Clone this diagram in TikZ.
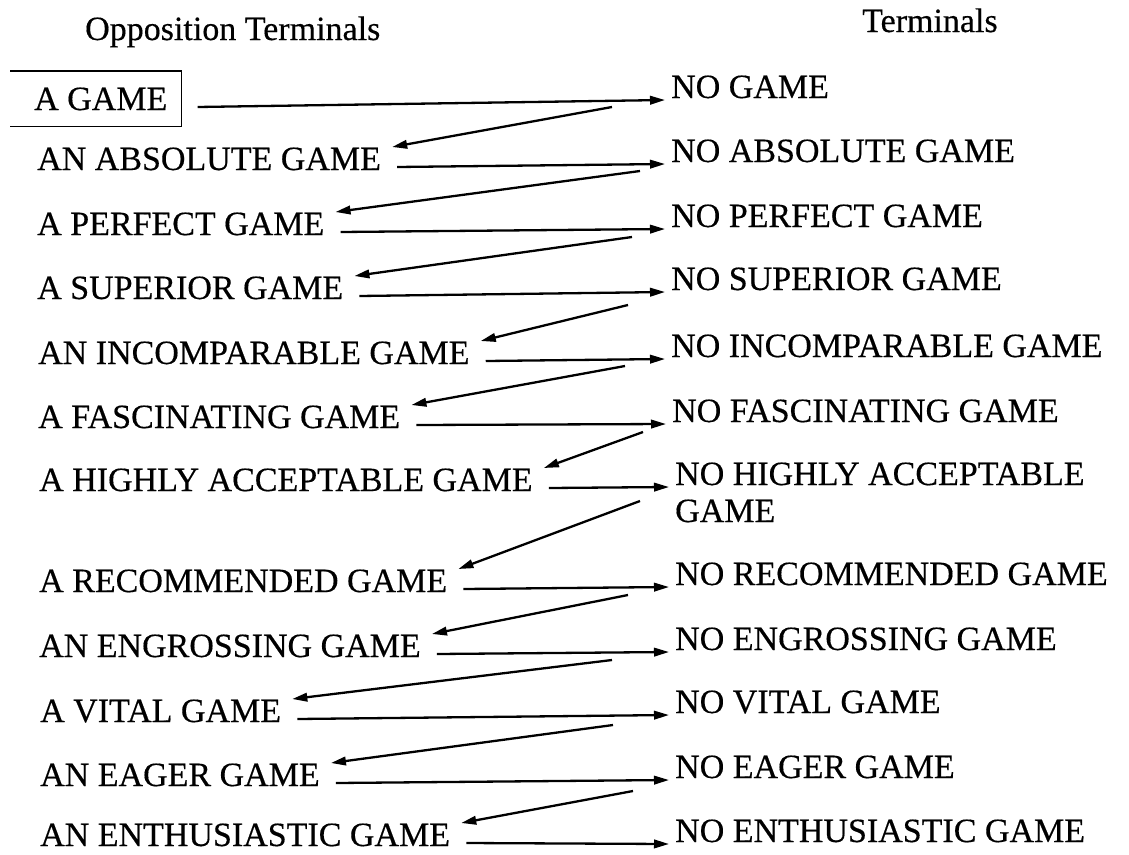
\documentclass[tikz,border=0pt]{standalone}
\usepackage{fontspec}
\setmainfont{Liberation Serif}[FakeBold=0.4]
\usetikzlibrary{arrows.meta,positioning,calc}

\begin{document}
\begin{tikzpicture}[x=1pt, y=-1pt,
    term/.style={anchor=base west, inner sep=0pt, font=\fontsize{34}{37}\selectfont},
    arrow/.style={-{Triangle[length=15pt, width=8.5pt]}, line width=2.3pt}
]
\useasboundingbox (0,0) rectangle (1129,854);

\node (hopp) [term] at (85,40) {Opposition Terminals};
\node (hterm) [term] at (862,32) {Terminals};

% left column
\node (opp0) [term, inner xsep=14pt, inner ysep=16pt] at (20,110) {A GAME};
\node (opp1) [term] at (37,170) {AN ABSOLUTE GAME};
\node (opp2) [term] at (37,235) {A PERFECT GAME};
\node (opp3) [term] at (37,299) {A SUPERIOR GAME};
\node (opp4) [term] at (38,364) {AN INCOMPARABLE GAME};
\node (opp5) [term] at (38,428) {A FASCINATING GAME};
\node (opp6) [term] at (39,491) {A HIGHLY ACCEPTABLE GAME};
\node (opp7) [term] at (39,592) {A RECOMMENDED GAME};
\node (opp8) [term] at (39,657) {AN ENGROSSING GAME};
\node (opp9) [term] at (40,722) {A VITAL GAME};
\node (opp10) [term] at (40,786) {AN EAGER GAME};
\node (opp11) [term] at (40,846) {AN ENTHUSIASTIC GAME};

\draw [line width=1.8pt] ([xshift=-10pt]opp0.north west) -- (opp0.north east)
    -- (opp0.south east) -- ([xshift=-10pt]opp0.south west);

% right column
\node (term0) [term] at (671,98) {NO GAME};
\node (term1) [term] at (671,162) {NO ABSOLUTE GAME};
\node (term2) [term] at (671,227) {NO PERFECT GAME};
\node (term3) [term] at (671,290) {NO SUPERIOR GAME};
\node (term4) [term] at (671,357) {NO INCOMPARABLE GAME};
\node (term5) [term] at (672,422) {NO FASCINATING GAME};
\node (term6) [term] at (675,485) {\vtop{\hbox{NO HIGHLY ACCEPTABLE}\hbox{GAME}}};
\node (term7) [term] at (675,585) {NO RECOMMENDED GAME};
\node (term8) [term] at (675,650) {NO ENGROSSING GAME};
\node (term9) [term] at (675,713) {NO VITAL GAME};
\node (term10) [term] at (675,778) {NO EAGER GAME};
\node (term11) [term] at (675,842) {NO ENTHUSIASTIC GAME};

\foreach \i in {0,...,11}
    \draw [arrow] ([xshift=16pt, yshift=3pt]opp\i.base east) -- ([xshift=-6pt, yshift=-2pt]term\i.base west);

\foreach \i/\j/\dx/\dy in {0/1/-59pt/-9pt, 1/2/-31pt/-9pt, 2/3/-39pt/-10pt, 3/4/-43pt/-15pt,
    4/5/-46pt/-9pt, 5/6/-29pt/-10pt, 6/7/-35pt/-16pt, 7/8/-47pt/-10pt, 8/9/-63pt/-10pt,
    9/10/-62pt/-12pt, 10/11/-42pt/-13pt}
    \draw [arrow] ([xshift=\dx, yshift=\dy]term\i.base west) -- ([xshift=11pt, yshift=23pt]opp\j.base east);

\end{tikzpicture}
\end{document}
